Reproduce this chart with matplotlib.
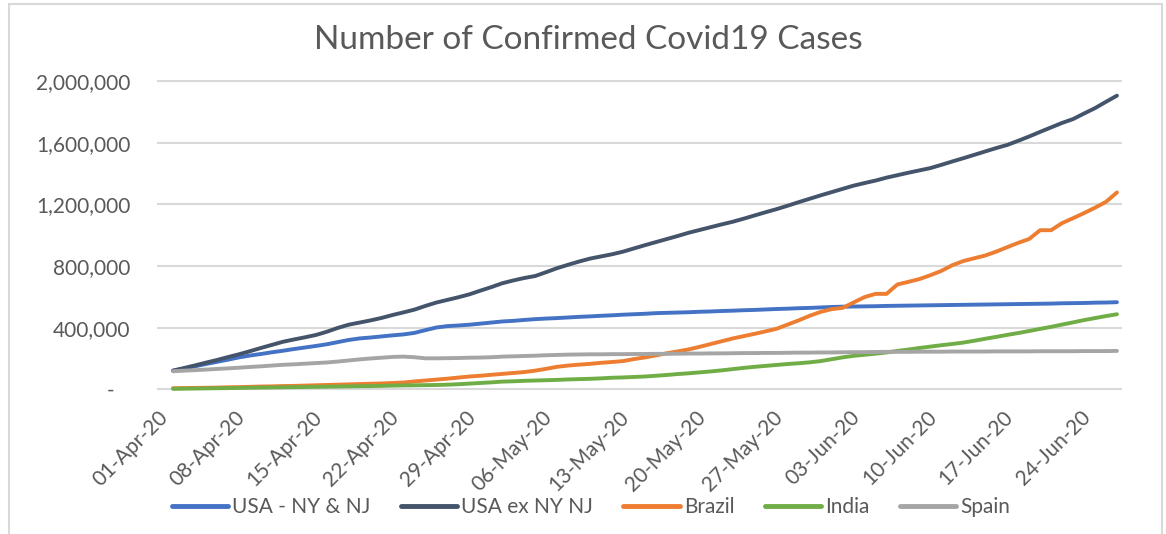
import pandas as pd
import numpy as np
import matplotlib
matplotlib.use("Agg")
import matplotlib.pyplot as plt
import matplotlib.dates as mdates
from matplotlib.ticker import FuncFormatter
from matplotlib.transforms import ScaledTranslation
from matplotlib.patches import Rectangle

# --- DATA (thousands of confirmed cases, daily from 01-Apr-20 to 26-Jun-20) ---
dates = pd.date_range("2020-04-01", "2020-06-26", freq="D")

usa_ny_nj = [121, 135, 149, 164, 178, 192, 207, 219, 229, 240, 250, 261, 271, 281, 292,
             306, 320, 330, 336, 343, 350, 356, 366, 384, 401, 410, 414, 419, 426, 433,
             440, 444, 450, 455, 459, 462, 466, 470, 473, 477, 480, 484, 487, 490, 494,
             496, 498, 500, 503, 505, 508, 510, 513, 515, 518, 521, 523, 526, 528, 531,
             534, 536, 537, 538, 539, 541, 542, 543, 544, 545, 546, 547, 548, 549, 550,
             551, 552, 553, 554, 555, 556, 558, 559, 560, 562, 563, 565]

usa_ex_ny_nj = [121, 138, 155, 173, 190, 209, 227, 247, 268, 288, 308, 323, 337, 352, 373,
                398, 419, 433, 447, 463, 482, 499, 517, 541, 563, 580, 597, 616, 640, 663,
                688, 706, 722, 735, 760, 786, 808, 829, 848, 862, 876, 893, 914, 935, 955,
                975, 995, 1016, 1034, 1052, 1070, 1087, 1107, 1128, 1149, 1169, 1191, 1214, 1236, 1258,
                1279, 1300, 1321, 1338, 1354, 1373, 1389, 1405, 1420, 1435, 1456, 1478, 1499, 1521, 1543,
                1565, 1585, 1612, 1640, 1670, 1699, 1728, 1753, 1789, 1824, 1865, 1905]

brazil = [7, 8, 9, 10, 11, 13, 14, 16, 18, 19, 21, 22, 24, 26, 28,
          30, 32, 34, 36, 38, 41, 44, 51, 57, 63, 69, 76, 83, 88, 94,
          100, 106, 112, 121, 133, 146, 154, 160, 165, 172, 177, 183, 196, 207, 220,
          234, 246, 259, 276, 294, 312, 330, 345, 360, 376, 393, 420, 447, 477, 502,
          520, 528, 563, 598, 619, 619, 680, 697, 715, 740, 768, 805, 832, 850, 868,
          893, 922, 950, 975, 1032, 1032, 1078, 1110, 1143, 1178, 1216, 1277]

india = [3, 4, 5, 6, 7, 8, 9, 10, 11, 12, 13, 14, 15, 16, 17,
         18, 19, 20, 21, 22, 24, 25, 26, 27, 28, 30, 33, 37, 41, 45,
         50, 52, 55, 57, 59, 61, 64, 66, 68, 71, 75, 77, 80, 83, 88,
         93, 99, 104, 110, 116, 123, 131, 139, 146, 152, 158, 164, 169, 175, 183,
         195, 207, 217, 224, 231, 239, 249, 258, 268, 277, 286, 294, 303, 315, 328,
         340, 353, 365, 378, 392, 405, 420, 434, 449, 462, 475, 487]

spain = [117, 121, 124, 128, 132, 136, 140, 145, 149, 154, 159, 162, 166, 170, 174,
         180, 187, 194, 200, 205, 210, 212, 208, 201, 201, 202, 203, 205, 206, 208,
         212, 214, 216, 218, 221, 223, 225, 226, 227, 227, 228, 228, 229, 229, 230,
         230, 231, 232, 232, 233, 233, 234, 235, 235, 236, 236, 237, 238, 238, 239,
         239, 240, 241, 241, 242, 243, 243, 243, 244, 244, 244, 245, 245, 245, 245,
         246, 246, 246, 246, 247, 247, 247, 247, 248, 248, 248, 249]

series_names = ["USA - NY & NJ", "USA ex NY NJ", "Brazil", "India", "Spain"]
series_values = [usa_ny_nj, usa_ex_ny_nj, brazil, india, spain]
colors = ["#4472C4", "#44546A", "#ED7D31", "#70AD47", "#A5A5A5"]

y_ticks = [0, 400000, 800000, 1200000, 1600000, 2000000]
x_ticks = pd.date_range("2020-04-01", "2020-06-24", freq="7D")

plt.rcParams["font.family"] = ["Lato", "DejaVu Sans"]
TEXT = "#595959"

# --- FIGURE ---
W, H = 1166, 534
fig = plt.figure(figsize=(W / 100, H / 100), dpi=100)

# outer chart frame
fig.patches.append(Rectangle((9 / W, -0.05), (1162 - 9) / W, (H - 4) / H + 0.05,
                             transform=fig.transFigure, fill=False,
                             edgecolor="#D9D9D9", lw=1.5))

ax_left, ax_right, ax_top, ax_bot = 157, 1122, 79, 391
ax = fig.add_axes([ax_left / W, (H - ax_bot) / H,
                   (ax_right - ax_left) / W, (ax_bot - ax_top) / H])

for name, vals, c in zip(series_names, series_values, colors):
    ax.plot(dates, np.array(vals) * 1000, color=c, lw=2.8, label=name,
            solid_capstyle="round", solid_joinstyle="round")

px = 2000000 / (389.3 - 81)
ax.set_ylim(-(ax_bot - 389.3) * px, 2000000 + (81 - ax_top) * px)
ax.set_xlim(mdates.date2num(dates[0]) - 1.46, mdates.date2num(dates[-1]) + 0.46)

ax.set_yticks(y_ticks)
ax.yaxis.set_major_formatter(FuncFormatter(lambda v, p: "-   " if v == 0 else f"{v:,.0f}"))
ax.set_xticks(x_ticks)
ax.xaxis.set_major_formatter(mdates.DateFormatter("%d-%b-%y"))

ax.grid(axis="y", color="#D9D9D9", lw=1.5)
ax.set_axisbelow(True)
for s in ax.spines.values():
    s.set_visible(False)

ax.tick_params(axis="both", length=0, colors=TEXT, labelsize=15)
ax.tick_params(axis="y", pad=19)
ax.tick_params(axis="x", pad=0)

offset = ScaledTranslation(-0.08, -0.23, fig.dpi_scale_trans)
for lab in ax.get_xticklabels():
    lab.set_rotation(45)
    lab.set_rotation_mode("anchor")
    lab.set_ha("right")
    lab.set_va("center")
    lab.set_transform(lab.get_transform() + offset)

fig.text(588 / W, 1 - 40 / H, "Number of Confirmed Covid19 Cases",
         ha="center", va="center", fontsize=24, color=TEXT)

leg = fig.legend(loc="center", bbox_to_anchor=(591 / W, 1 - 507 / H), ncol=5,
                 frameon=False, fontsize=15, handlelength=2.7, handletextpad=0.2,
                 columnspacing=1.45, labelcolor=TEXT)
for line in leg.get_lines():
    line.set_linewidth(3.5)
    line.set_solid_capstyle("round")

fig.savefig("out.png", dpi=100)
